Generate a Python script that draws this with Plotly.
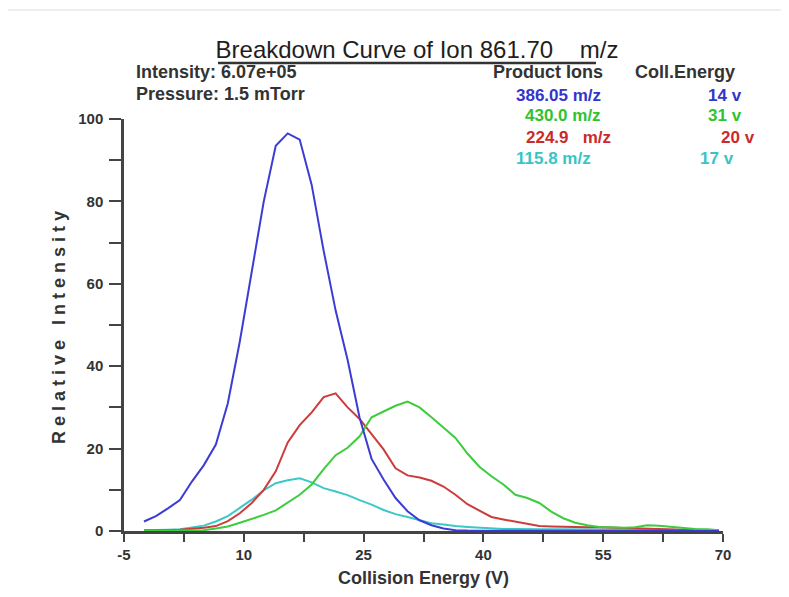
import plotly.graph_objects as go

# Collision energy (V)
energy = [-2.5, -1, 0.5, 2, 3.5, 5, 6.5, 8, 9.5, 11, 12.5, 14, 15.5, 17, 18.5, 20,
          21.5, 23, 24.5, 26, 27.5, 29, 30.5, 32, 33.5, 35, 36.5, 38, 39.5, 41,
          42.5, 44, 45.5, 47, 48.5, 50, 51.5, 53, 54.5, 56, 57.5, 59, 60.5, 62,
          63.5, 65, 66.5, 68, 69.5]

ion_386 = [2.3, 3.6, 5.5, 7.5, 12, 16, 21, 31, 46, 63.5, 80, 93.5, 96.5, 95, 84, 68,
           53.5, 41.5, 27.5, 17.5, 12.5, 8, 4.8, 2.6, 1.4, 0.6, 0.2, 0.1, 0.1, 0.1,
           0.1, 0.1, 0.1, 0.1, 0.1, 0.1, 0.1, 0.1, 0.1, 0.1, 0.1, 0.1, 0.1, 0.1,
           0.1, 0.1, 0.1, 0.1, 0.0]

ion_430 = [0.05, 0.05, 0.1, 0.1, 0.1, 0.2, 0.6, 1.1, 2.0, 2.9, 3.9, 5.0, 7.0, 8.8,
           11.3, 15.0, 18.4, 20.2, 23.0, 27.6, 29.0, 30.4, 31.4, 30.0, 27.6, 25.2,
           22.6, 18.8, 15.6, 13.3, 11.3, 8.8, 8.0, 6.8, 4.7, 3.1, 2.0, 1.4, 1.0,
           0.9, 0.8, 0.9, 1.4, 1.3, 1.0, 0.8, 0.5, 0.4, 0.2]

ion_224 = [0.1, 0.1, 0.2, 0.3, 0.5, 0.8, 1.2, 2.4, 4.3, 6.8, 10.0, 14.5, 21.5, 25.7,
           28.8, 32.5, 33.4, 30.0, 27.2, 23.6, 19.8, 15.2, 13.5, 13.0, 12.2, 10.8,
           8.8, 6.5, 5.0, 3.4, 2.8, 2.3, 1.8, 1.2, 1.1, 1.0, 1.0, 0.9, 0.9, 0.8,
           0.7, 0.6, 0.5, 0.4, 0.4, 0.3, 0.3, 0.2, 0.1]

ion_115 = [0.2, 0.2, 0.3, 0.4, 0.8, 1.3, 2.3, 3.6, 5.6, 7.6, 9.9, 11.6, 12.3, 12.8,
           11.8, 10.4, 9.6, 8.7, 7.5, 6.4, 5.1, 4.1, 3.4, 2.7, 1.9, 1.6, 1.2, 1.0,
           0.8, 0.6, 0.5, 0.5, 0.4, 0.4, 0.4, 0.4, 0.4, 0.4, 0.3, 0.3, 0.3, 0.3,
           0.3, 0.3, 0.3, 0.2, 0.2, 0.2, 0.2]

x_tickvals = [-5, 2.5, 10, 17.5, 25, 32.5, 40, 47.5, 55, 62.5, 70]
x_ticktext = ["-5", "", "10", "", "25", "", "40", "", "55", "", "70"]
y_tickvals = [0, 10, 20, 30, 40, 50, 60, 70, 80, 90, 100]
y_ticktext = ["0", "", "20", "", "40", "", "60", "", "80", "", "100"]

product_ions = ["386.05 m/z", "430.0 m/z", "224.9   m/z", "115.8 m/z"]
coll_energy = ["14 v", "31 v", "20 v", "17 v"]

BLUE = "#3c3cd4"
GREEN = "#3ccc3c"
RED = "#cc3c3c"
CYAN = "#3cc8c8"
TXT_BLUE = "#3434cc"
TXT_GREEN = "#2fc42f"
TXT_RED = "#cc2a2a"
TXT_CYAN = "#38c4c4"

FONT = "Liberation Sans, Arial, sans-serif"
AX = "#444444"
TX = "#333333"

# page body has an 8px margin: plot area lands at x 124..723, y 119..531 on screen
OFF = 8

fig = go.Figure()
series = [(ion_115, CYAN), (ion_224, RED), (ion_430, GREEN), (ion_386, BLUE)]
for vals, col in series:
    fig.add_trace(go.Scatter(x=energy, y=vals, mode="lines",
                             line=dict(color=col, width=2), hoverinfo="skip"))

fig.update_layout(
    width=789, height=597,
    margin=dict(l=124 - OFF, r=66 + OFF, t=119 - OFF, b=66 + OFF),
    paper_bgcolor="white", plot_bgcolor="white",
    showlegend=False,
    title=dict(text="Breakdown Curve of Ion 861.70    m/z",
               font=dict(family=FONT, size=24, color="#1e1e1e"),
               xref="container", yref="container",
               x=(417 - OFF) / 789, xanchor="center",
               y=1 - (50 - OFF) / 597, yanchor="middle"),
    font=dict(family=FONT, color=TX),
)

fig.update_xaxes(range=[-5, 70], showgrid=False, zeroline=False,
                 showline=True, linecolor=AX, linewidth=2.5,
                 ticks="outside", ticklen=8, tickwidth=2, tickcolor=AX,
                 tickvals=x_tickvals, ticktext=x_ticktext,
                 tickfont=dict(family=FONT, size=15, color=TX, weight="bold"),
                 title=dict(text="Collision Energy (V)", standoff=10,
                            font=dict(family=FONT, size=18, color=TX, weight="bold")))
fig.update_yaxes(range=[0, 100], showgrid=False, zeroline=False,
                 showline=True, linecolor=AX, linewidth=2.5,
                 ticks="outside", ticklen=12, tickwidth=2, tickcolor=AX,
                 ticklabelstandoff=3,
                 tickvals=y_tickvals, ticktext=y_ticktext,
                 tickfont=dict(family=FONT, size=15, color=TX, weight="bold"),
                 title=dict(text="Relative Intensity", standoff=8,
                            font=dict(family=FONT, size=18, color=TX, weight="bold")))

def px(xp):
    return (xp - 124) / 599

def py(yp):
    return (531 - yp) / 412

ann = []
def add(text, x, y, anchor, color, size=18):
    ann.append(dict(text=text, xref="paper", yref="paper", x=px(x), y=py(y),
                    xanchor=anchor, yanchor="middle", showarrow=False,
                    font=dict(family=FONT, size=size, color=color, weight="bold")))

add("Intensity: 6.07e+05", 134, 72, "left", TX)
add("Pressure: 1.5 mTorr", 134, 94, "left", TX)
add("Product Ions", 605, 72, "right", TX)
add("Coll.Energy", 633, 72, "left", TX)

txt_cols = [TXT_BLUE, TXT_GREEN, TXT_RED, TXT_CYAN]
ion_right = [603, 603, 613, 593]
ce_right = [744, 744, 757, 736]
rows_y = [95, 116, 137, 158]
for i in range(4):
    add(product_ions[i], ion_right[i], rows_y[i], "right", txt_cols[i], 17)
    add(coll_energy[i], ce_right[i], rows_y[i], "right", txt_cols[i], 17)

fig.update_layout(annotations=ann)

# title underline and thin top rule
fig.add_shape(type="line", xref="paper", yref="paper",
              x0=px(218), x1=px(596), y0=py(63), y1=py(63),
              line=dict(color="#333333", width=2.5))
fig.add_shape(type="line", xref="paper", yref="paper",
              x0=px(0), x1=px(789), y0=py(10), y1=py(10),
              line=dict(color="#dddddd", width=1))

post = """
var gd = document.getElementById('{plot_id}');
function spaceTitle() {
  gd.querySelectorAll('.ytitle').forEach(function (e) { e.style.letterSpacing = '5px'; });
}
spaceTitle();
if (gd.on) { gd.on('plotly_afterplot', spaceTitle); }
"""

fig.write_html("out.html", post_script=post)
